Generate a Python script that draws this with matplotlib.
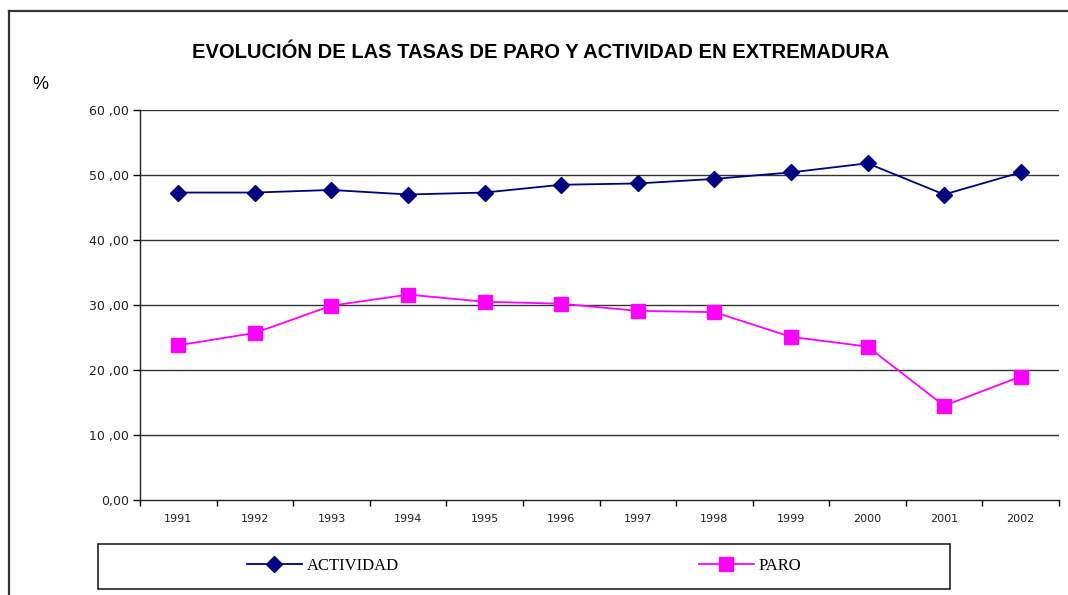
import numpy as np
import matplotlib
matplotlib.use("Agg")
import matplotlib.pyplot as plt
from matplotlib.patches import Rectangle
from matplotlib.lines import Line2D

years = ["1991", "1992", "1993", "1994", "1995", "1996",
         "1997", "1998", "1999", "2000", "2001", "2002"]
actividad = [47.3, 47.3, 47.7, 47.0, 47.3, 48.5, 48.7, 49.4, 50.4, 51.8, 47.0, 50.4]
paro = [23.8, 25.7, 29.9, 31.6, 30.5, 30.2, 29.1, 28.9, 25.1, 23.6, 14.5, 19.0]
yticks = [0, 10, 20, 30, 40, 50, 60]
ytick_labels = ["0,00", "10 ,00", "20 ,00", "30 ,00", "40 ,00", "50 ,00", "60 ,00"]

W, H = 1068, 595
fig = plt.figure(figsize=(W / 100, H / 100), dpi=100)
ax = fig.add_axes([140 / W, 1 - 500 / H, 919 / W, 390 / H])

x = np.arange(len(years))
ax.plot(x, actividad, color="#000080", lw=1.3, marker="D", markersize=8,
        label="ACTIVIDAD", zorder=3)
ax.plot(x, paro, color="#FF00FF", lw=1.3, marker="s", markersize=10,
        label="PARO", zorder=3)

ax.set_xlim(-0.5, len(years) - 0.5)
ax.set_ylim(0, 60)
ax.set_yticks(yticks)
ax.set_yticklabels(ytick_labels, fontsize=9, color="#222222")
ax.set_xticks(x)
ax.set_xticklabels(years, fontsize=8, color="#222222")
ax.set_xticks(np.arange(-0.5, len(years)), minor=True)
ax.tick_params(axis="x", which="major", length=0, pad=10)
ax.tick_params(axis="x", which="minor", length=4, direction="out", width=1)
ax.tick_params(axis="y", length=5, direction="out", width=1, pad=3)

for yv in yticks[1:]:
    ax.axhline(yv, color="#333333", lw=1.0, zorder=1)

for s in ["top", "right"]:
    ax.spines[s].set_visible(False)
for s in ["left", "bottom"]:
    ax.spines[s].set_color("#222222")
    ax.spines[s].set_linewidth(1.0)

fig.text(541 / W, 1 - 53 / H, "EVOLUCIÓN DE LAS TASAS DE PARO Y ACTIVIDAD EN EXTREMADURA",
         ha="center", va="center", fontsize=14.5, fontweight="bold",
         family="Liberation Sans")
fig.text(40 / W, 1 - 85 / H, "%", ha="center", va="center", fontsize=13,
         family="Liberation Sans")

# outer chart frame (top and left edges visible)
fig.add_artist(Line2D([9 / W, 9 / W], [0, 1 - 11 / H], color="#333333", lw=1.6))
fig.add_artist(Line2D([9 / W, 1], [1 - 11 / H, 1 - 11 / H], color="#333333", lw=1.6))

# legend box
fig.add_artist(Rectangle((98 / W, 1 - 589 / H), 852 / W, 45 / H, fill=False,
                         edgecolor="#222222", lw=1.2, transform=fig.transFigure))
fig.legend(loc="center", bbox_to_anchor=(524 / W, 1 - 566 / H), ncol=2,
           frameon=False, handlelength=3.3, handletextpad=0.3,
           columnspacing=18, prop={"family": "Liberation Serif", "size": 12})

fig.savefig("out.png", dpi=100)
